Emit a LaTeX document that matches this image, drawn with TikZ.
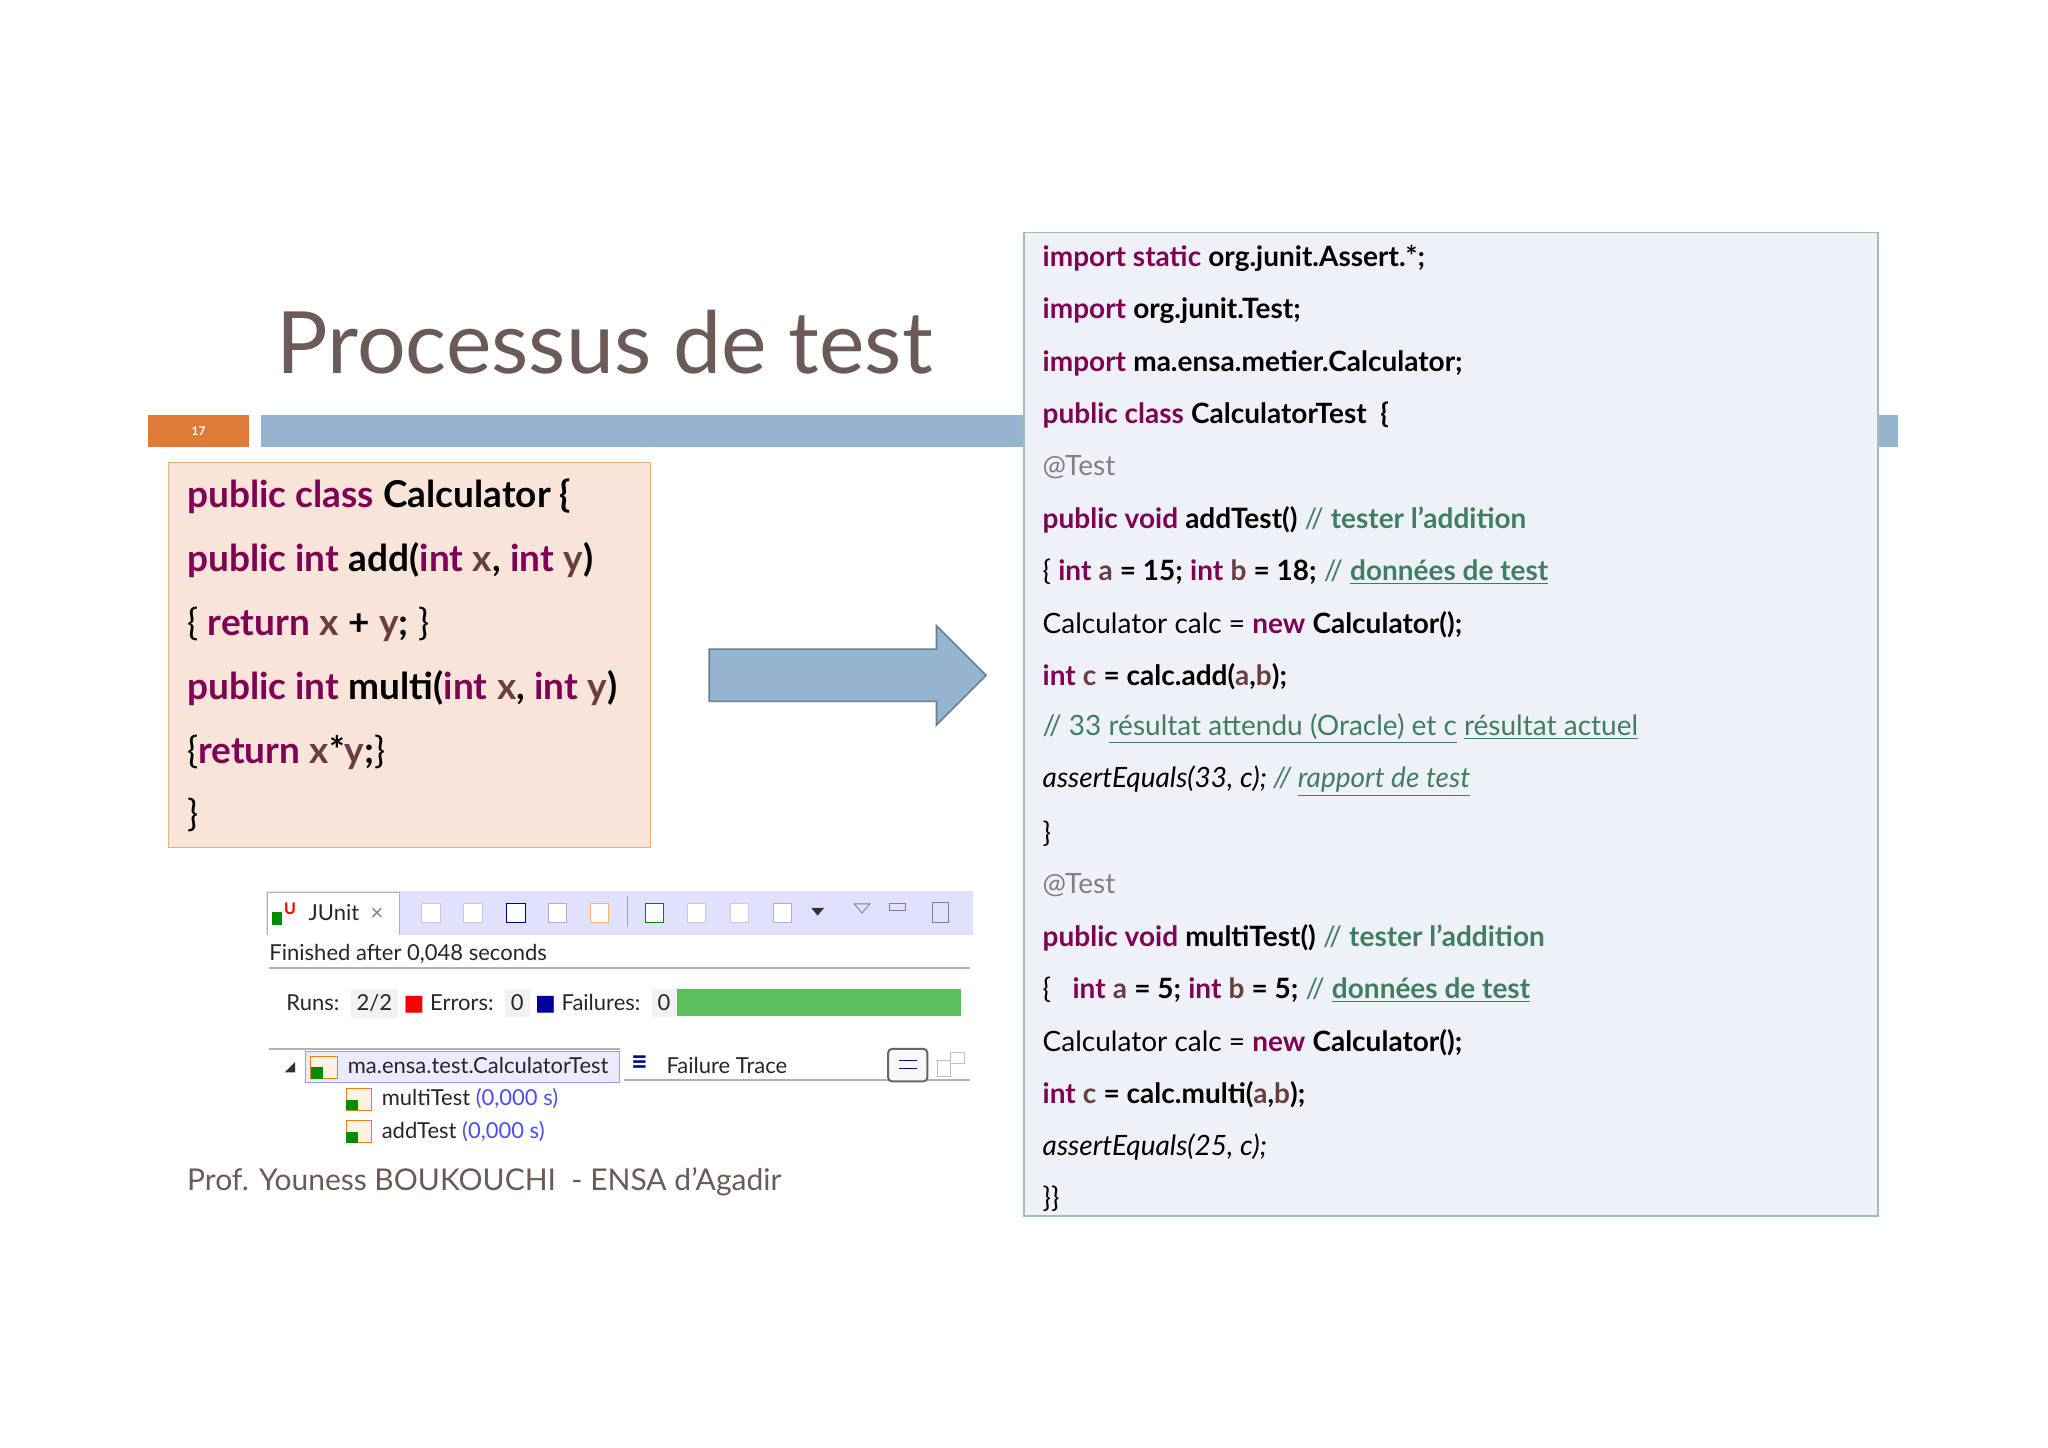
\documentclass[tikz,border=0pt]{standalone}
\usepackage{fontspec}
\setmainfont{Lato}
\newfontfamily\dejavu{DejaVu Sans}
\usepackage{xcolor}
\definecolor{kw}{HTML}{7F0055}
\definecolor{vr}{HTML}{6A3E3E}
\definecolor{cm}{HTML}{3F7F5F}
\definecolor{barblue}{HTML}{94B4D0}
\definecolor{orng}{HTML}{E07B39}
\definecolor{titlec}{HTML}{6B5A55}
\definecolor{lbox}{HTML}{F9E4D9}
\definecolor{rbox}{HTML}{EEF2F8}
\definecolor{okgreen}{HTML}{5CBF5C}
\newcommand{\kw}[1]{\textcolor{kw}{\bfseries #1}}
\newcommand{\bb}[1]{{\bfseries #1}}
\newcommand{\vr}[1]{\textcolor{vr}{\bfseries #1}}
\newcommand{\cmt}[1]{\textcolor{cm}{#1}}
\newcommand{\ul}[1]{\underline{#1}}
\begin{document}
\begin{tikzpicture}[x=0.653pt,y=-0.653pt,
  codeR/.style={anchor=west,inner sep=0pt,font=\fontsize{14}{16}\selectfont},
  codeL/.style={anchor=west,inner sep=0pt,font=\fontsize{18.5}{20}\selectfont},
  ju/.style={anchor=west,inner sep=0pt,font=\fontsize{11}{12}\selectfont,text=black!85}]
\useasboundingbox[fill=white] (0,0) rectangle (1568,1108.5);
% header
\fill[orng] (113,318) rectangle (191,342);
\node[text=white,font=\fontsize{6}{7}\selectfont\bfseries] (num) at (152,330) {17};
\fill[barblue] (200,318) rectangle (1453,342);
\node[text=titlec,font=\fontsize{43}{48}\selectfont] (title) at (463,262) {Processus de test};
% left box
\draw[draw=brown!60!orange!60,fill=lbox,line width=0.8pt] (129,354) rectangle (498,649);
\node[codeL] (l1) at (143,380) {\kw{public class} \bb{Calculator \{}};
\node[codeL] (l2) at (143,429) {\kw{public int} \bb{add(}\kw{int} \vr{x}\bb{,} \kw{int} \vr{y}\bb{)}};
\node[codeL] (l3) at (143,478) {\{ \kw{return} \vr{x} \bb{+} \vr{y}\bb{;} \}};
\node[codeL] (l4) at (143,527) {\kw{public int} \bb{multi(}\kw{int} \vr{x}\bb{,} \kw{int} \vr{y}\bb{)}};
\node[codeL] (l5) at (143,576) {\{\kw{return} \vr{x}\bb{*}\vr{y}\bb{;}\}};
\node[codeL] (l6) at (143,624) {\}};
% arrow
\draw[fill=barblue,draw=barblue!70!black,line width=0.8pt] (543,497) -- (717,497) -- (717,479) -- (755,517) -- (717,555) -- (717,537) -- (543,537) -- cycle;
% right box
\draw[draw=cm!50!white,fill=rbox,line width=0.8pt] (784,178) rectangle (1438,931);
\begin{scope}[every node/.style={codeR}]
\node (r1) at (798,198) {\kw{import static} \bb{org.junit.Assert.*;}};
\node (r2) at (798,238) {\kw{import} \bb{org.junit.Test;}};
\node (r3) at (798,278) {\kw{import} \bb{ma.ensa.metier.Calculator;}};
\node (r4) at (798,318) {\kw{public class} \bb{CalculatorTest\ \ \{}};
\node (r5) at (798,358) {\textcolor{gray}{@Test}};
\node (r6) at (798,398) {\kw{public void} \bb{addTest()} \cmt{// \bfseries tester l’addition}};
\node (r7) at (798,438) {\{ \kw{int} \vr{a} \bb{= 15;} \kw{int} \vr{b} \bb{= 18;} \cmt{// \bfseries\ul{données de test}}};
\node (r8) at (798,478) {Calculator calc = \kw{new} \bb{Calculator();}};
\node (r9) at (798,518) {\kw{int} \vr{c} \bb{= calc.add(}\vr{a}\bb{,}\vr{b}\bb{);}};
\node (r10) at (798,558) {\cmt{// 33 \ul{résultat attendu (Oracle) et c} \ul{résultat actuel}}};
\node (r11) at (798,598) {\itshape assertEquals(33, c); \cmt{// \ul{rapport de test}}};
\node (r12) at (798,638) {\}};
\node (r13) at (798,678) {\textcolor{gray}{@Test}};
\node (r14) at (798,718) {\kw{public void} \bb{multiTest()} \cmt{// \bfseries tester l’addition}};
\node (r15) at (798,758) {\{\ \ \ \kw{int} \vr{a} \bb{= 5;} \kw{int} \vr{b} \bb{= 5;} \cmt{// \bfseries\ul{données de test}}};
\node (r16) at (798,798) {Calculator calc = \kw{new} \bb{Calculator();}};
\node (r17) at (798,838) {\kw{int} \vr{c} \bb{= calc.multi(}\vr{a}\bb{,}\vr{b}\bb{);}};
\node (r18) at (798,878) {\itshape assertEquals(25, c);};
\node (r19) at (798,918) {\}\}};
\end{scope}
% footer
\node[anchor=west,inner sep=0pt,text=titlec,font=\fontsize{15}{16}\selectfont] (foot) at (143,905) {Prof. Youness BOUKOUCHI\ \ - ENSA d'Agadir};
% JUnit panel
\fill[blue!12!white] (204,682) rectangle (745,716);
\fill[white] (205,683) rectangle (306,716);
\draw[gray!60] (205,716) -- (205,683) -- (306,683) -- (306,716);
\fill[green!55!black] (208,698) rectangle (216,708);
\node[text=red,font=\bfseries\fontsize{8}{8}\selectfont,inner sep=0pt] (uic) at (222,696) {U};
\node[ju] (tab) at (236,699) {JUnit \ \textcolor{gray}{×}};
% toolbar icons (simplified)
\foreach \xx/\cc in {330/gray!40,362/gray!40,395/blue!60!black,427/gray!60,459/orange!60,501/green!50!black,533/gray!40,566/gray!40,599/gray!60} {\draw[draw=\cc,fill=white] (\xx-7,692) rectangle (\xx+7,706);}
\draw[gray!70] (480,686) -- (480,710);
\fill[black!80] (621,695) -- (631,695) -- (626,701) -- cycle;
\draw[gray] (654,692) -- (666,692) -- (660,699) -- cycle;
\draw[gray] (681,692) rectangle (693,697);
\draw[gray] (714,691) rectangle (726,706);
\node[ju] (fin) at (206,730) {Finished after 0,048 seconds};
\draw[gray!60,line width=1pt] (206,741) -- (743,741);
\node[ju] (runs) at (219,768) {Runs:\ \ \colorbox{gray!10}{2/2} \textcolor{red}{\dejavu ■} Errors:\ \ \colorbox{gray!10}{0} \textcolor{blue!60!black}{\dejavu ■} Failures:\ \ \colorbox{gray!10}{0}};
\fill[okgreen] (518,757) rectangle (736,778);
\draw[gray!60,line width=1pt] (206,803) -- (475,803);
\draw[blue!40,fill=blue!8!white] (234,805) rectangle (474,829);
\fill[black!80] (218,821) -- (226,821) -- (226,813) -- cycle;
\draw[orange!70!brown,fill=orange!10] (238,809) rectangle (258,826);
\fill[green!55!black] (238,817) rectangle (247,826);
\node[ju] (cls) at (266,816) {ma.ensa.test.CalculatorTest};
\node[ju,text=blue!60!black,font=\bfseries\fontsize{14}{14}\selectfont] (ft) at (483,814) {≡};
\node[ju] (ftt) at (510,816) {Failure Trace};
\draw[gray!60,line width=1pt] (478,827) -- (743,827);
\draw[gray!80!black,rounded corners=2pt,line width=1pt,fill=gray!5] (680,803) rectangle (710,828);
\draw[blue!60!black] (688,812) -- (702,812) (688,818) -- (702,818);
\draw[gray!50] (718,812) rectangle (728,824) (728,806) rectangle (738,814);
\foreach \yy/\nm/\lab in {841/multi/multiTest,866/add/addTest} {
  \draw[orange!70!brown,fill=orange!10] (265,\yy-8) rectangle (284,\yy+9);
  \fill[green!55!black] (265,\yy+1) rectangle (274,\yy+9);
  \node[ju] (\nm) at (292,\yy) {\lab\ \textcolor{blue!70!white}{(0,000 s)}};
}
\end{tikzpicture}
\end{document}
